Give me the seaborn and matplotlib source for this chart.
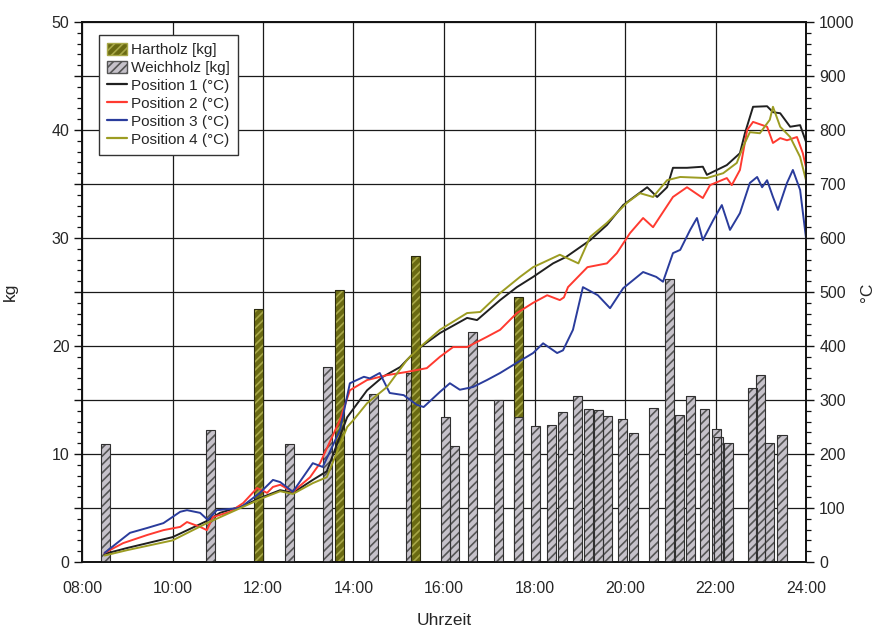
import numpy as np
import pandas as pd
import matplotlib
matplotlib.use("Agg")
import matplotlib.pyplot as plt
from matplotlib.patches import Patch
from matplotlib.lines import Line2D
from matplotlib.ticker import MultipleLocator, FuncFormatter
import seaborn as sns

# ---------------- data ----------------
tick_hours = [8, 10, 12, 14, 16, 18, 20, 22, 24]
tick_labels = ["08:00", "10:00", "12:00", "14:00", "16:00", "18:00", "20:00", "22:00", "24:00"]

weich_t = [8.51, 10.83, 12.59, 13.43, 14.45, 15.26, 16.03, 16.23, 16.62, 17.20, 17.64,
           18.03, 18.38, 18.61, 18.95, 19.19, 19.41, 19.61, 19.94, 20.19, 20.63, 20.99,
           21.20, 21.45, 21.75, 22.02, 22.07, 22.29, 22.82, 23.00, 23.19, 23.47]
weich_kg = [10.9, 12.2, 10.9, 18.1, 15.6, 17.5, 13.4, 10.7, 21.3, 15.0, 13.4,
            12.6, 12.7, 13.9, 15.4, 14.2, 14.1, 13.5, 13.2, 11.9, 14.3, 26.2,
            13.6, 15.4, 14.2, 12.3, 11.6, 11.0, 16.1, 17.3, 11.0, 11.8]

hart_t = [11.90, 13.70, 15.38, 17.64]
hart_kg = [23.4, 25.2, 28.3, 24.5]

p1_t = [8.5, 9.0, 10.0, 10.76, 11.05, 11.56, 11.98, 12.38, 12.66, 13.10, 13.41, 13.86,
        14.30, 14.65, 15.03, 15.40, 15.91, 16.51, 16.73, 17.24, 17.61, 17.97, 18.41,
        18.70, 19.23, 19.60, 19.96, 20.49, 20.71, 20.93, 21.06, 21.37, 21.72, 21.81,
        22.03, 22.25, 22.54, 22.65, 22.83, 23.14, 23.27, 23.43, 23.65, 23.87, 24.0]
p1_c = [15, 26, 46, 76, 91, 104, 120, 133, 128, 152, 168, 268,
        318, 343, 361, 393, 424, 452, 448, 485, 509, 528, 553,
        565, 596, 624, 661, 694, 676, 694, 730, 730, 732, 717,
        726, 735, 757, 794, 843, 844, 833, 831, 806, 809, 778]

p2_t = [8.5, 8.91, 9.44, 9.80, 10.17, 10.32, 10.61, 10.76, 10.89, 11.27, 11.56, 11.87,
        12.09, 12.22, 12.38, 12.66, 13.04, 13.26, 13.70, 13.92, 14.30, 14.74, 15.18,
        15.62, 15.91, 16.20, 16.51, 16.95, 17.24, 17.61, 17.97, 18.28, 18.56, 18.65,
        18.74, 19.17, 19.60, 19.82, 20.11, 20.40, 20.62, 20.84, 21.06, 21.37, 21.72,
        21.88, 22.25, 22.36, 22.54, 22.70, 22.83, 23.14, 23.27, 23.43, 23.58, 23.80,
        23.93, 24.0]
p2_c = [17, 35, 50, 59, 65, 74, 65, 59, 83, 93, 109, 137,
        128, 139, 143, 130, 157, 183, 263, 318, 337, 346, 352,
        359, 380, 398, 398, 417, 430, 461, 480, 494, 485, 490,
        509, 546, 553, 572, 609, 637, 620, 648, 676, 694, 674,
        698, 711, 698, 726, 800, 815, 806, 776, 785, 781, 787,
        757, 731]

p3_t = [8.5, 9.06, 9.44, 9.80, 10.17, 10.32, 10.61, 10.78, 10.98, 11.49, 11.93, 12.22,
        12.38, 12.66, 13.10, 13.32, 13.70, 13.92, 14.23, 14.36, 14.58, 14.80, 15.11,
        15.40, 15.55, 15.91, 16.13, 16.35, 16.64, 16.95, 17.24, 17.61, 17.97, 18.19,
        18.50, 18.63, 18.85, 19.07, 19.40, 19.67, 19.96, 20.40, 20.69, 20.84, 21.06,
        21.22, 21.44, 21.59, 21.72, 21.95, 22.14, 22.32, 22.54, 22.76, 22.92, 23.03,
        23.14, 23.27, 23.38, 23.58, 23.71, 23.87, 24.0]
p3_c = [17, 54, 63, 72, 93, 96, 91, 78, 96, 100, 128, 152,
        148, 130, 183, 176, 244, 331, 343, 340, 350, 313, 309,
        291, 287, 315, 331, 319, 324, 337, 350, 369, 387, 405,
        387, 392, 430, 509, 494, 470, 507, 537, 528, 519, 572,
        578, 615, 637, 596, 633, 661, 615, 646, 702, 713, 694,
        707, 676, 652, 702, 726, 689, 600]

p4_t = [8.5, 9.0, 10.0, 10.76, 11.98, 12.38, 12.66, 13.10, 13.41, 13.86, 14.00, 14.30,
        14.74, 15.18, 15.47, 15.91, 16.51, 16.80, 17.24, 17.68, 17.97, 18.56, 18.97,
        19.23, 19.60, 20.04, 20.33, 20.62, 20.93, 21.22, 21.81, 22.17, 22.47, 22.61,
        22.76, 22.98, 23.20, 23.27, 23.43, 23.65, 23.87, 24.0]
p4_c = [12, 22, 40, 72, 118, 131, 126, 146, 157, 250, 263, 294,
        324, 374, 398, 430, 461, 463, 498, 528, 546, 569, 553,
        602, 628, 665, 683, 676, 707, 713, 711, 720, 739, 769,
        796, 794, 819, 843, 806, 787, 750, 707]

# ---------------- style ----------------
sns.set_style("white")
plt.rcParams["font.family"] = ["Liberation Sans", "DejaVu Sans"]
plt.rcParams["hatch.linewidth"] = 1.2

col_p = {"Position 1 (°C)": "#202020", "Position 2 (°C)": "#ff3a30",
         "Position 3 (°C)": "#2a3c9c", "Position 4 (°C)": "#9c9c22"}
hart_fill, hart_hatch = "#6a6a12", "#a8a848"
weich_fill, weich_hatch = "#c6c2ca", "#555555"
bar_w = 0.2

fig = plt.figure(figsize=(8.78, 6.30), dpi=100)
ax = fig.add_axes([82 / 878, 1 - 562 / 630, 724 / 878, 540 / 630])
ax2 = ax.twinx()

# bars (kg)
hb = ax.bar(hart_t, hart_kg, width=bar_w, color=hart_fill, edgecolor=hart_hatch,
            linewidth=0, hatch="////", zorder=2)
hb2 = ax.bar(hart_t, hart_kg, width=bar_w, fill=False, edgecolor="#2a2a10",
             linewidth=0.8, zorder=2)
wb = ax.bar(weich_t, weich_kg, width=bar_w, color=weich_fill, edgecolor=weich_hatch,
            linewidth=0, hatch="////", zorder=3)
wb2 = ax.bar(weich_t, weich_kg, width=bar_w, fill=False, edgecolor="#303030",
             linewidth=0.8, zorder=3)
# third Hartholz bar sits in front of its neighbour
hb.patches[2].set_zorder(4)
hb2.patches[2].set_zorder(4)

ax.set_xlim(8, 24)
ax.set_ylim(0, 50)
ax.set_axisbelow(True)
ax.set_xticks(tick_hours)
ax.set_xticklabels(tick_labels)
ax.xaxis.set_minor_locator(MultipleLocator(1))
ax.yaxis.set_major_locator(MultipleLocator(5))
ax.yaxis.set_minor_locator(MultipleLocator(1))
ax.yaxis.set_major_formatter(FuncFormatter(lambda v, p: f"{int(v)}" if int(v) % 10 == 0 else ""))
ax.grid(True, which="major", color="#1a1a1a", linewidth=0.9)

# temperature lines
frames = []
for name, t, c in [("Position 1 (°C)", p1_t, p1_c), ("Position 2 (°C)", p2_t, p2_c),
                   ("Position 3 (°C)", p3_t, p3_c), ("Position 4 (°C)", p4_t, p4_c)]:
    frames.append(pd.DataFrame({"h": t, "c": c, "pos": name}))
df = pd.concat(frames, ignore_index=True)
sns.lineplot(data=df, x="h", y="c", hue="pos", palette=col_p, estimator=None,
             sort=False, linewidth=1.4, ax=ax2, legend=False)
ax2.set_ylim(0, 1000)
ax2.set_xlim(8, 24)
ax2.yaxis.set_major_locator(MultipleLocator(100))
ax2.yaxis.set_minor_locator(MultipleLocator(20))
ax2.set_xlabel("")
ax2.set_ylabel("")

for a in (ax, ax2):
    for s in a.spines.values():
        s.set_color("#111111")
        s.set_linewidth(1.2)
ax.tick_params(axis="both", which="major", direction="out", length=6, width=1,
               labelsize=11.5, color="#111111", pad=3)
ax.tick_params(axis="both", which="minor", direction="out", length=3.5, width=0.9,
               color="#111111")
ax.tick_params(axis="x", which="major", length=8, pad=6)
ax2.tick_params(axis="y", which="major", direction="out", length=6, width=1,
                labelsize=11.5, color="#111111")
ax2.tick_params(axis="y", which="minor", direction="out", length=3.5, width=0.9,
                color="#111111")

ax.set_xlabel("Uhrzeit", fontsize=12.5, labelpad=12)
ax.set_ylabel("kg", fontsize=12.5)
ax.yaxis.set_label_coords(-0.088, 0.5)
ax2.set_ylabel("°C", fontsize=12.5)
ax2.yaxis.set_label_coords(1.075, 0.5)

handles = [Patch(facecolor=hart_fill, edgecolor=hart_hatch, hatch="////", label="Hartholz [kg]"),
           Patch(facecolor=weich_fill, edgecolor=weich_hatch, hatch="////", label="Weichholz [kg]")]
for name, c in col_p.items():
    handles.append(Line2D([0], [0], color=c, linewidth=1.6, label=name))
leg = ax2.legend(handles=handles, loc="upper left", bbox_to_anchor=(0.024, 0.976),
                 fontsize=11, frameon=True, fancybox=False, edgecolor="#333333",
                 framealpha=1, handlelength=1.3, handleheight=0.9, handletextpad=0.3,
                 labelspacing=0.22, borderpad=0.5, borderaxespad=0)
leg.get_frame().set_linewidth(1.0)
leg.set_zorder(10)

fig.savefig("out.png", dpi=100, facecolor="white")
